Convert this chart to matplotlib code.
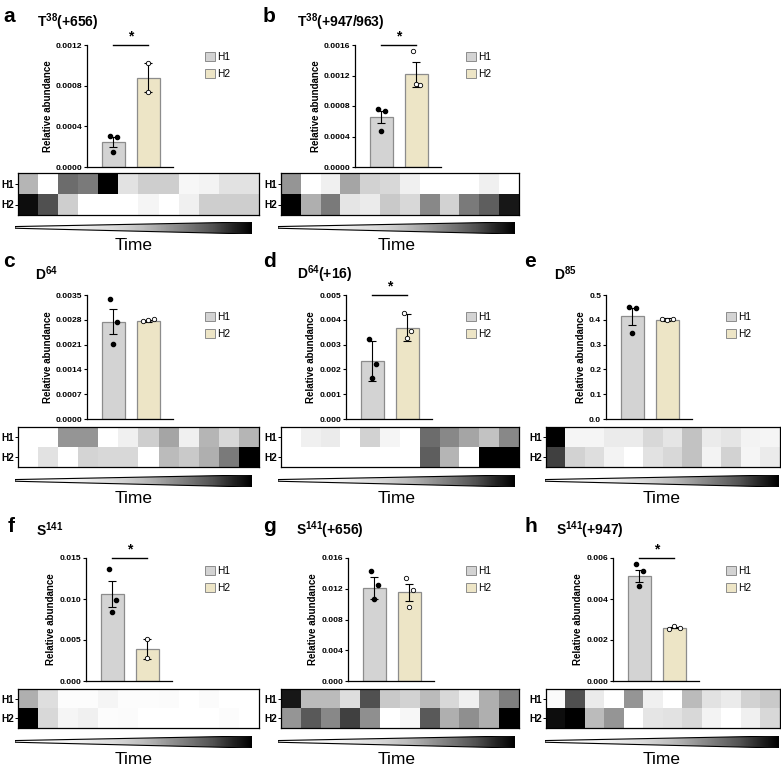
import numpy as np
import matplotlib
matplotlib.use("Agg")
import matplotlib.pyplot as plt
from matplotlib.patches import Polygon, Patch

plt.rcParams["font.family"] = ["Liberation Sans", "DejaVu Sans"]
plt.rcParams["mathtext.fontset"] = "custom"
plt.rcParams["mathtext.rm"] = "Liberation Sans"
plt.rcParams["mathtext.bf"] = "Liberation Sans:bold"

W, H = 781, 767

# ---- data ---------------------------------------------------------------
letters = ["a", "b", "c", "d", "e", "f", "g", "h"]
titles = [
    r"T$^{\mathbf{38}}$(+656)",
    r"T$^{\mathbf{38}}$(+947/963)",
    r"D$^{\mathbf{64}}$",
    r"D$^{\mathbf{64}}$(+16)",
    r"D$^{\mathbf{85}}$",
    r"S$^{\mathbf{141}}$",
    r"S$^{\mathbf{141}}$(+656)",
    r"S$^{\mathbf{141}}$(+947)",
]
groups = ["H1", "H2"]

bar_mean = [
    [0.000242, 0.00088],
    [0.000653, 0.001215],
    [0.002747, 0.002766],
    [0.002352, 0.00368],
    [0.414, 0.4005],
    [0.0106, 0.00387],
    [0.01209, 0.01152],
    [0.00511, 0.002595],
]
bar_err = [
    [0.00005, 0.00014],
    [0.00008, 0.00016],
    [0.00036, 0.00002],
    [0.0008, 0.00054],
    [0.035, 0.006],
    [0.0016, 0.0012],
    [0.0014, 0.0011],
    [0.0003, 0.00003],
]
h1_points = [
    [0.000307, 0.000294, 0.000144],
    [0.000757, 0.00074, 0.000476],
    [0.003387, 0.002747, 0.002117],
    [0.00321, 0.0022, 0.001667],
    [0.4496, 0.448, 0.347],
    [0.0137, 0.0099, 0.00836],
    [0.01426, 0.01252, 0.0107],
    [0.00569, 0.00535, 0.00462],
]
h2_points = [
    [0.00102, 0.00074],
    [0.001527, 0.00107, 0.001094],
    [0.00277, 0.00279, 0.00282],
    [0.00429, 0.00355, 0.00325],
    [0.405, 0.398, 0.402],
    [0.00514, 0.00277],
    [0.01335, 0.01187, 0.00961],
    [0.00256, 0.002675, 0.0026],
]
y_ticks = [
    ["0.0000", "0.0004", "0.0008", "0.0012"],
    ["0.0000", "0.0004", "0.0008", "0.0012", "0.0016"],
    ["0.0000", "0.0007", "0.0014", "0.0021", "0.0028", "0.0035"],
    ["0.000", "0.001", "0.002", "0.003", "0.004", "0.005"],
    ["0.0", "0.1", "0.2", "0.3", "0.4", "0.5"],
    ["0.000", "0.005", "0.010", "0.015"],
    ["0.000", "0.004", "0.008", "0.012", "0.016"],
    ["0.000", "0.002", "0.004", "0.006"],
]
significant = [True, True, False, True, False, True, False, True]

heat_h1 = [
    [0.4, 0.0, 0.65, 0.6, 1.0, 0.2, 0.3, 0.3, 0.07, 0.1, 0.2, 0.2],
    [0.5, 0.0, 0.12, 0.45, 0.28, 0.25, 0.12, 0.0, 0.0, 0.0, 0.12, 0.0],
    [0.0, 0.0, 0.5, 0.5, 0.0, 0.12, 0.3, 0.45, 0.12, 0.4, 0.25, 0.4],
    [0.0, 0.12, 0.15, 0.0, 0.28, 0.08, 0.0, 0.65, 0.55, 0.45, 0.35, 0.55],
    [1.0, 0.08, 0.08, 0.15, 0.15, 0.25, 0.18, 0.35, 0.15, 0.18, 0.1, 0.08],
    [0.42, 0.22, 0.02, 0.02, 0.08, 0.02, 0.02, 0.03, 0.0, 0.03, 0.0, 0.0],
    [0.92, 0.38, 0.38, 0.22, 0.75, 0.32, 0.28, 0.38, 0.25, 0.12, 0.42, 0.58],
    [0.03, 0.75, 0.15, 0.0, 0.5, 0.12, 0.0, 0.38, 0.2, 0.15, 0.28, 0.32],
]
heat_h2 = [
    [0.95, 0.75, 0.3, 0.0, 0.0, 0.0, 0.08, 0.0, 0.12, 0.3, 0.3, 0.3],
    [1.0, 0.42, 0.6, 0.18, 0.15, 0.32, 0.25, 0.55, 0.28, 0.6, 0.7, 0.92],
    [0.0, 0.2, 0.0, 0.27, 0.25, 0.25, 0.0, 0.38, 0.32, 0.42, 0.6, 1.0],
    [0.0, 0.0, 0.0, 0.0, 0.0, 0.0, 0.0, 0.7, 0.4, 0.0, 1.0, 1.0],
    [0.8, 0.28, 0.22, 0.1, 0.0, 0.2, 0.25, 0.35, 0.1, 0.28, 0.08, 0.15],
    [1.0, 0.25, 0.08, 0.12, 0.02, 0.03, 0.0, 0.0, 0.0, 0.0, 0.02, 0.0],
    [0.5, 0.72, 0.55, 0.8, 0.52, 0.0, 0.07, 0.72, 0.42, 0.52, 0.42, 1.0],
    [0.95, 1.0, 0.38, 0.5, 0.0, 0.18, 0.2, 0.25, 0.1, 0.0, 0.12, 0.25],
]

# ---- layout (pixels) ----------------------------------------------------
col_of = [0, 1, 0, 1, 2, 0, 1, 2]
row_of = [0, 0, 1, 1, 1, 2, 2, 2]
bar_x0 = [87, 355, 87, 346, 606, 86, 348, 613]
letter_x = [3, 263, 3, 263, 524, 8, 263, 525]
title_x = [37, 297, 35, 297, 554, 36, 296, 556]

heat_x = [(18, 259), (281, 519), (546, 780)]
tri_x = [(15, 252), (278, 515), (545, 779)]
legend_x = [207, 468, 728]

row_bar_y = [(45, 167), (295, 419), (558, 681)]
row_heat_y = [(173, 215), (427, 467), (689, 728)]
row_tri_y = [(222, 234), (475, 487), (736, 748)]
row_time_y = [246, 498, 760]
row_letter_y = [16, 262, 526]
row_title_y = [22, 274, 530]
row_legend_y = [53, 313, 567]

# point jitter (x offsets, bar units)
jit3 = [-0.1, 0.1, 0.0]
jit_spread = [-0.15, 0.0, 0.15]
h2_spread = [False, False, True, False, True, False, False, True]

H1_COL = "#d3d3d3"
H2_COL = "#ede5c6"
EDGE = "#8c8c8c"


def box(x0, y0, x1, y1):
    return [x0 / W, 1 - y1 / H, (x1 - x0) / W, (y1 - y0) / H]


def fy(y):
    return 1 - y / H


fig = plt.figure(figsize=(W / 100, H / 100), dpi=100)

for i in range(8):
    c, r = col_of[i], row_of[i]
    by0, by1 = row_bar_y[r]
    ax = fig.add_axes(box(bar_x0[i], by0, bar_x0[i] + 86, by1))
    ticks = [float(t) for t in y_ticks[i]]
    ax.bar([0, 1], bar_mean[i], width=0.66, color=[H1_COL, H2_COL],
           edgecolor=EDGE, linewidth=0.9, zorder=1)
    ax.errorbar([0, 1], bar_mean[i], yerr=bar_err[i], fmt="none",
                ecolor="black", elinewidth=0.8, capsize=2.8, capthick=0.8, zorder=2)
    p1 = h1_points[i]
    ax.scatter([jit3[k] for k in range(len(p1))], p1, s=9, color="black", zorder=3)
    p2 = h2_points[i]
    if len(p2) == 2:
        xs2 = [1, 1]
    elif h2_spread[i]:
        xs2 = [1 + d for d in jit_spread]
    else:
        xs2 = [1 + d for d in jit3]
    ax.scatter(xs2, p2, s=10, facecolor="white", edgecolor="black",
               linewidth=0.6, zorder=3)

    ax.set_xlim(-0.75, 1.7)
    ax.set_ylim(0, ticks[-1])
    ax.set_yticks(ticks)
    ax.set_yticklabels(y_ticks[i], fontsize=6.1, fontweight="bold")
    ax.set_xticks([])
    for s in ["top", "right"]:
        ax.spines[s].set_visible(False)
    for s in ["left", "bottom"]:
        ax.spines[s].set_linewidth(0.9)
    ax.tick_params(axis="y", length=2.5, width=0.8, pad=1)
    ax.set_ylabel("Relative abundance", fontsize=7, fontweight="bold", labelpad=2)

    if significant[i]:
        ytop = ticks[-1]
        ax.plot([0, 1], [ytop, ytop], color="black", lw=1.0, clip_on=False)
        ax.text(0.5, ytop * 1.015, "*", ha="center", va="bottom",
                fontsize=10, fontweight="bold")

    # legend
    ly = row_legend_y[r]
    handles = [Patch(facecolor=H1_COL, edgecolor=EDGE, linewidth=0.7),
               Patch(facecolor=H2_COL, edgecolor=EDGE, linewidth=0.7)]
    fig.legend(handles, groups, loc="upper left",
               bbox_to_anchor=(legend_x[c] / W - 0.012, fy(ly - 8)),
               frameon=False, fontsize=7.3, handlelength=1.0, handleheight=0.9,
               handletextpad=0.2, labelspacing=0.7, borderpad=0.2)

    # heatmap
    hy0, hy1 = row_heat_y[r]
    hx0, hx1 = heat_x[c]
    axh = fig.add_axes(box(hx0, hy0, hx1, hy1))
    axh.imshow(np.array([heat_h1[i], heat_h2[i]]), cmap="Greys", vmin=0, vmax=1,
               aspect="auto", interpolation="nearest")
    axh.set_xticks([])
    axh.set_yticks([0, 1])
    axh.set_yticklabels(groups, fontsize=7.2, fontweight="bold")
    axh.tick_params(axis="y", length=2, width=0.7, pad=1)
    for s in axh.spines.values():
        s.set_linewidth(0.9)

    # time wedge
    ty0, ty1 = row_tri_y[r]
    tx0, tx1 = tri_x[c]
    axt = fig.add_axes(box(tx0, ty0, tx1, ty1))
    axt.set_xlim(0, 1)
    axt.set_ylim(0, 1)
    axt.axis("off")
    verts = [(0, 0.62), (0, 0.48), (1, 0), (1, 1)]
    grad = np.linspace(0, 1, 256).reshape(1, -1) ** 1.6
    im = axt.imshow(grad, cmap="Greys", vmin=0, vmax=1, aspect="auto",
                    extent=[0, 1, 0, 1], origin="lower")
    poly = Polygon(verts, closed=True, facecolor="none", edgecolor="black", lw=0.8)
    axt.add_patch(poly)
    im.set_clip_path(poly)
    fig.text((tx0 + tx1) / 2 / W, fy(row_time_y[r]), "Time", ha="center",
             va="center", fontsize=12.5)

    # letter and title
    fig.text(letter_x[i] / W, fy(row_letter_y[r]), letters[i], ha="left",
             va="center", fontsize=15, fontweight="bold")
    fig.text(title_x[i] / W, fy(row_title_y[r]), titles[i], ha="left",
             va="center", fontsize=10, fontweight="bold")

fig.savefig("out.png", dpi=100)
